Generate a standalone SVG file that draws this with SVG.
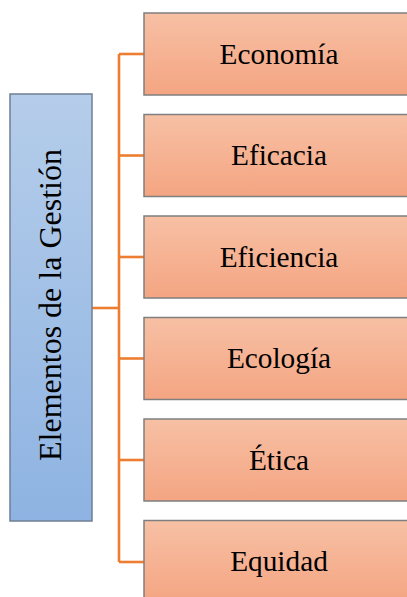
<svg xmlns="http://www.w3.org/2000/svg" width="407" height="597" viewBox="0 0 407 597">
  <defs>
    <linearGradient id="gBlue" x1="0" y1="0" x2="0" y2="1">
      <stop offset="0" stop-color="#B5CDEA"/>
      <stop offset="1" stop-color="#8EB3E2"/>
    </linearGradient>
    <linearGradient id="gOrange" x1="0" y1="0" x2="0" y2="1">
      <stop offset="0" stop-color="#F7C0A4"/>
      <stop offset="1" stop-color="#F4A582"/>
    </linearGradient>
  </defs>
  <style>
    .root { fill: url(#gBlue); stroke: #6F7F92; stroke-width: 1.5; }
    .item { fill: url(#gOrange); stroke: #7F7F7F; stroke-width: 1.5; }
    text { font-family: 'Liberation Serif', 'Times New Roman', serif; fill: #000; text-anchor: middle; }
    .lbl { font-size: 29.3px; }
    .rootlbl { font-size: 32px; }
    .wire { fill: none; stroke: #ED7D31; stroke-width: 2.6; }
  </style>

  <g id="connectors">
    <path class="wire" d="M92 308 H119"/>
    <path class="wire" d="M119 54 V562"/>
    <path class="wire" d="M119 54 H144"/>
    <path class="wire" d="M119 155.5 H144"/>
    <path class="wire" d="M119 257 H144"/>
    <path class="wire" d="M119 358.5 H144"/>
    <path class="wire" d="M119 460 H144"/>
    <path class="wire" d="M119 562 H144"/>
  </g>

  <g id="elementos">
    <rect class="root" x="10" y="94" width="82" height="427"/>
    <text class="rootlbl" transform="translate(61 305) rotate(-90)">Elementos de la Gestión</text>
  </g>

  <g id="economia">
    <rect class="item" x="144" y="13" width="270" height="82"/>
    <text class="lbl" x="279" y="63.5">Economía</text>
  </g>
  <g id="eficacia">
    <rect class="item" x="144" y="114.5" width="270" height="82"/>
    <text class="lbl" x="279" y="165">Eficacia</text>
  </g>
  <g id="eficiencia">
    <rect class="item" x="144" y="216" width="270" height="82"/>
    <text class="lbl" x="279" y="266.5">Eficiencia</text>
  </g>
  <g id="ecologia">
    <rect class="item" x="144" y="317.5" width="270" height="82"/>
    <text class="lbl" x="279" y="368">Ecología</text>
  </g>
  <g id="etica">
    <rect class="item" x="144" y="419" width="270" height="82"/>
    <text class="lbl" x="279" y="469.5">Ética</text>
  </g>
  <g id="equidad">
    <rect class="item" x="144" y="520.5" width="270" height="82"/>
    <text class="lbl" x="279" y="571">Equidad</text>
  </g>
</svg>
